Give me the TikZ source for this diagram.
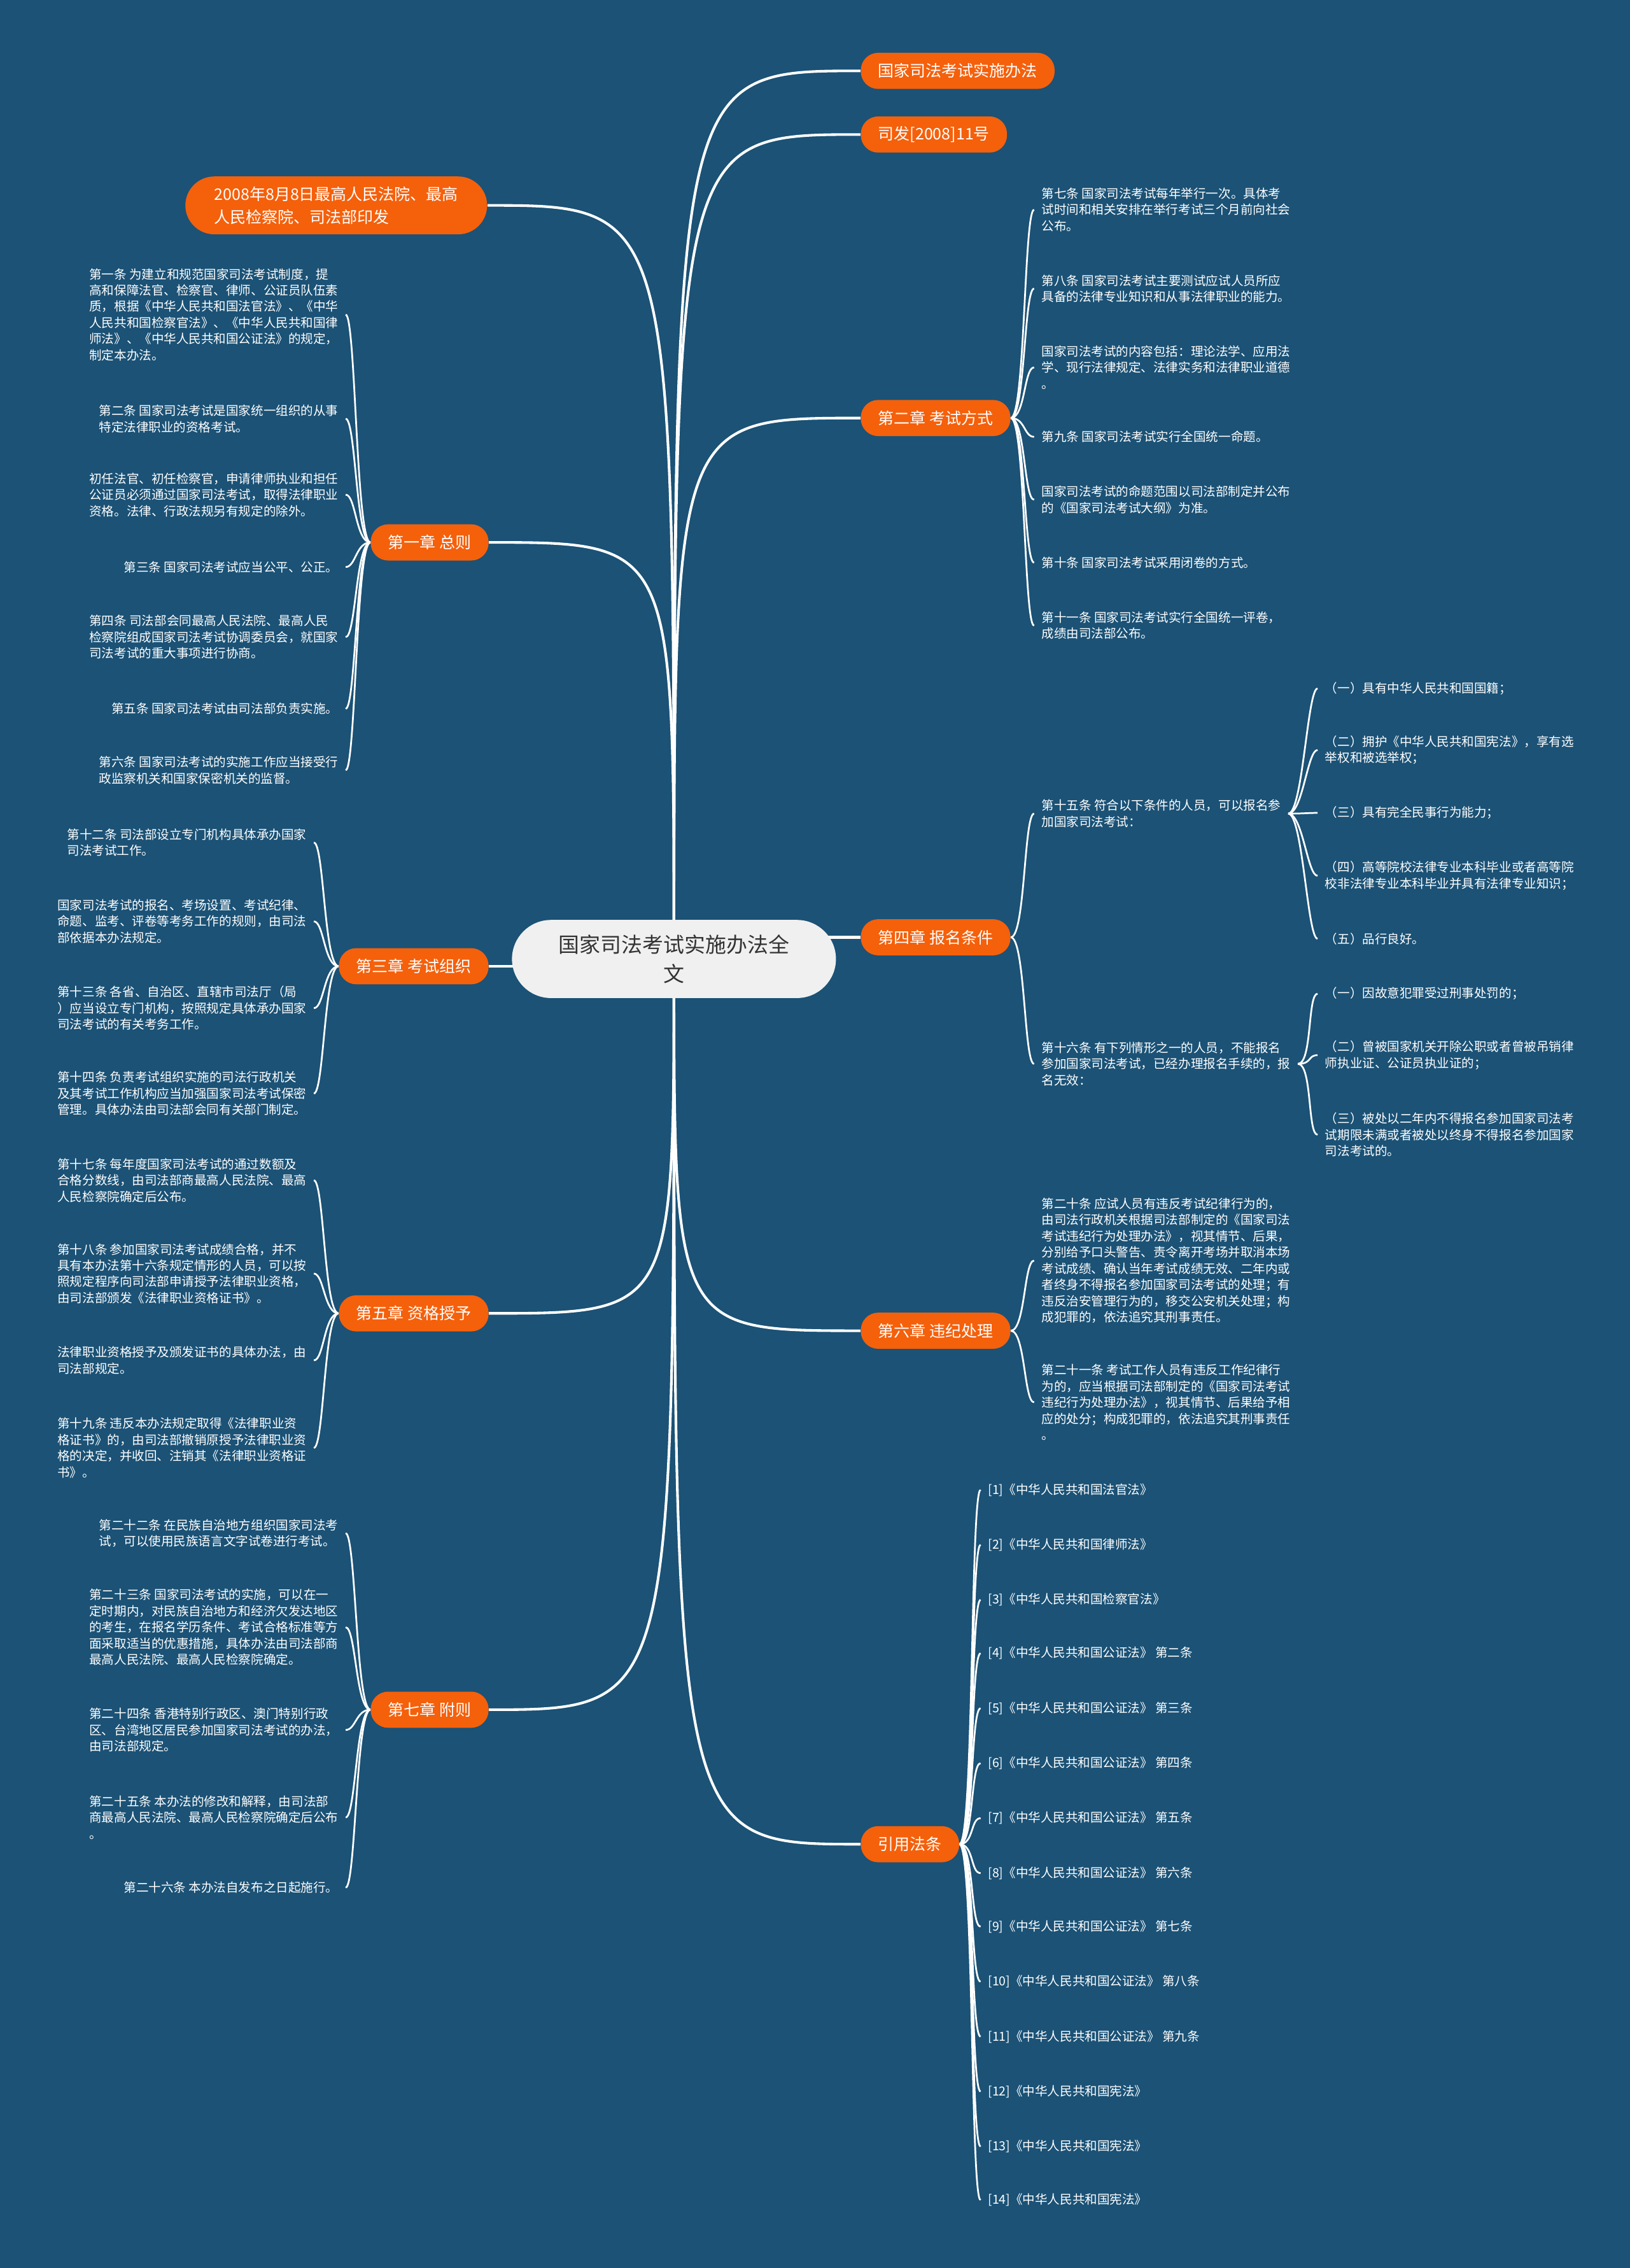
\documentclass[tikz,border=0pt]{standalone}
\usepackage{fontspec}
\newfontfamily\cjk{Noto Sans CJK SC}
\usetikzlibrary{backgrounds}
\definecolor{deskblue}{HTML}{1B5276}
\definecolor{tagorange}{HTML}{F5600B}
\definecolor{hubgray}{HTML}{F0F0F0}
\definecolor{hubtext}{HTML}{333333}

\begin{document}
\begin{tikzpicture}[x=1pt, y=-1pt]
    \tikzset{hub/.style = {shape=rectangle, rounded corners=27pt, fill=hubgray, text=hubtext, font=\cjk\fontsize{14.5}{20}\selectfont, align=center, minimum width=224pt, minimum height=54pt, inner sep=0pt}}
    \tikzset{tag/.style = {shape=rectangle, rounded corners=12pt, fill=tagorange, text=white, font=\cjk\fontsize{11}{16}\selectfont, align=left, minimum height=25pt, inner xsep=12pt, inner ysep=0pt}}
    \tikzset{leaf/.style = {text=white, font=\cjk\fontsize{8.6}{11.2}\selectfont, align=left, inner xsep=5pt, inner ysep=2pt}}
    \tikzset{limb/.style = {draw=white, line width=1.8pt}}
    \tikzset{ltwig/.style = {draw=white, line width=1.2pt, to path={.. controls ([xshift=-10pt]\tikztostart) and ([xshift=7pt]\tikztotarget) .. (\tikztotarget) \tikztonodes}}}
    \tikzset{rtwig/.style = {draw=white, line width=1.2pt, to path={.. controls ([xshift=10pt]\tikztostart) and ([xshift=-7pt]\tikztotarget) .. (\tikztotarget) \tikztonodes}}}

    \useasboundingbox (0,0) rectangle (1127,1568);

    % centre and chapters
    \node[hub] (hub) at (466,663) {国家司法考试实施办法全\\文};
    \node[tag, anchor=west] (r1) at (595,49) {国家司法考试实施办法};
    \node[tag, anchor=west] (r2) at (595,93) {司发[2008]11号};
    \node[tag, anchor=west] (r3) at (595,289) {第二章 考试方式};
    \node[tag, anchor=west] (r4) at (595,648) {第四章 报名条件};
    \node[tag, anchor=west] (r5) at (595,920) {第六章 违纪处理};
    \node[tag, anchor=west] (r6) at (595,1275) {引用法条};
    \node[tag, anchor=east, rounded corners=20pt, minimum height=40pt, inner xsep=20pt] (l0) at (337,142) {2008年8月8日最高人民法院、最高\\人民检察院、司法部印发};
    \node[tag, anchor=east] (l1) at (338,375) {第一章 总则};
    \node[tag, anchor=east] (l2) at (338,668) {第三章 考试组织};
    \node[tag, anchor=east] (l3) at (338,908) {第五章 资格授予};
    \node[tag, anchor=east] (l4) at (338,1182) {第七章 附则};

    % chapter one
    \node[leaf, anchor=east] (a1) at (239,217.5) {第一条 为建立和规范国家司法考试制度，提\\高和保障法官、检察官、律师、公证员队伍素\\质，根据《中华人民共和国法官法》、《中华\\人民共和国检察官法》、《中华人民共和国律\\师法》、《中华人民共和国公证法》的规定，\\制定本办法。};
    \node[leaf, anchor=east] (a2) at (239,289.5) {第二条 国家司法考试是国家统一组织的从事\\特定法律职业的资格考试。};
    \node[leaf, anchor=east] (a3) at (239,342) {初任法官、初任检察官，申请律师执业和担任\\公证员必须通过国家司法考试，取得法律职业\\资格。法律、行政法规另有规定的除外。};
    \node[leaf, anchor=east] (a4) at (239,392) {第三条 国家司法考试应当公平、公正。};
    \node[leaf, anchor=east] (a5) at (239,440.5) {第四条 司法部会同最高人民法院、最高人民\\检察院组成国家司法考试协调委员会，就国家\\司法考试的重大事项进行协商。};
    \node[leaf, anchor=east] (a6) at (239,490) {第五条 国家司法考试由司法部负责实施。};
    \node[leaf, anchor=east] (a7) at (239,532.5) {第六条 国家司法考试的实施工作应当接受行\\政监察机关和国家保密机关的监督。};

    % chapter two
    \node[leaf, anchor=west] (b1) at (715,145) {第七条 国家司法考试每年举行一次。具体考\\试时间和相关安排在举行考试三个月前向社会\\公布。};
    \node[leaf, anchor=west] (b2) at (715,199.5) {第八条 国家司法考试主要测试应试人员所应\\具备的法律专业知识和从事法律职业的能力。};
    \node[leaf, anchor=west] (b3) at (715,254) {国家司法考试的内容包括：理论法学、应用法\\学、现行法律规定、法律实务和法律职业道德\\。};
    \node[leaf, anchor=west] (b4) at (715,302) {第九条 国家司法考试实行全国统一命题。};
    \node[leaf, anchor=west] (b5) at (715,345.5) {国家司法考试的命题范围以司法部制定并公布\\的《国家司法考试大纲》为准。};
    \node[leaf, anchor=west] (b6) at (715,389) {第十条 国家司法考试采用闭卷的方式。};
    \node[leaf, anchor=west] (b7) at (715,432.5) {第十一条 国家司法考试实行全国统一评卷，\\成绩由司法部公布。};

    % chapter three
    \node[leaf, anchor=east] (c1) at (217,582.5) {第十二条 司法部设立专门机构具体承办国家\\司法考试工作。};
    \node[leaf, anchor=east] (c2) at (217,637) {国家司法考试的报名、考场设置、考试纪律、\\命题、监考、评卷等考务工作的规则，由司法\\部依据本办法规定。};
    \node[leaf, anchor=east] (c3) at (217,697) {第十三条 各省、自治区、直辖市司法厅（局\\）应当设立专门机构，按照规定具体承办国家\\司法考试的有关考务工作。};
    \node[leaf, anchor=east] (c4) at (217,756) {第十四条 负责考试组织实施的司法行政机关\\及其考试工作机构应当加强国家司法考试保密\\管理。具体办法由司法部会同有关部门制定。};

    % chapter four
    \node[leaf, anchor=west] (d1) at (715,562.5) {第十五条 符合以下条件的人员，可以报名参\\加国家司法考试：};
    \node[leaf, anchor=west] (d2) at (715,735.5) {第十六条 有下列情形之一的人员，不能报名\\参加国家司法考试，已经办理报名手续的，报\\名无效：};
    \node[leaf, anchor=west] (e1) at (911,476) {（一）具有中华人民共和国国籍；};
    \node[leaf, anchor=west] (e2) at (911,518.5) {（二）拥护《中华人民共和国宪法》，享有选\\举权和被选举权；};
    \node[leaf, anchor=west] (e3) at (911,562) {（三）具有完全民事行为能力；};
    \node[leaf, anchor=west] (e4) at (911,605.5) {（四）高等院校法律专业本科毕业或者高等院\\校非法律专业本科毕业并具有法律专业知识；};
    \node[leaf, anchor=west] (e5) at (911,649) {（五）品行良好。};
    \node[leaf, anchor=west] (f1) at (911,687) {（一）因故意犯罪受过刑事处罚的；};
    \node[leaf, anchor=west] (f2) at (911,729.5) {（二）曾被国家机关开除公职或者曾被吊销律\\师执业证、公证员执业证的；};
    \node[leaf, anchor=west] (f3) at (911,784.5) {（三）被处以二年内不得报名参加国家司法考\\试期限未满或者被处以终身不得报名参加国家\\司法考试的。};

    % chapter five
    \node[leaf, anchor=east] (g1) at (217,816) {第十七条 每年度国家司法考试的通过数额及\\合格分数线，由司法部商最高人民法院、最高\\人民检察院确定后公布。};
    \node[leaf, anchor=east] (g2) at (217,880.5) {第十八条 参加国家司法考试成绩合格，并不\\具有本办法第十六条规定情形的人员，可以按\\照规定程序向司法部申请授予法律职业资格，\\由司法部颁发《法律职业资格证书》。};
    \node[leaf, anchor=east] (g3) at (217,940.5) {法律职业资格授予及颁发证书的具体办法，由\\司法部规定。};
    \node[leaf, anchor=east] (g4) at (217,1001) {第十九条 违反本办法规定取得《法律职业资\\格证书》的，由司法部撤销原授予法律职业资\\格的决定，并收回、注销其《法律职业资格证\\书》。};

    % chapter six
    \node[leaf, anchor=west] (h1) at (715,871.5) {第二十条 应试人员有违反考试纪律行为的，\\由司法行政机关根据司法部制定的《国家司法\\考试违纪行为处理办法》，视其情节、后果，\\分别给予口头警告、责令离开考场并取消本场\\考试成绩、确认当年考试成绩无效、二年内或\\者终身不得报名参加国家司法考试的处理；有\\违反治安管理行为的，移交公安机关处理；构\\成犯罪的，依法追究其刑事责任。};
    \node[leaf, anchor=west] (h2) at (715,969.5) {第二十一条 考试工作人员有违反工作纪律行\\为的，应当根据司法部制定的《国家司法考试\\违纪行为处理办法》，视其情节、后果给予相\\应的处分；构成犯罪的，依法追究其刑事责任\\。};

    % chapter seven
    \node[leaf, anchor=east] (k1) at (239,1060) {第二十二条 在民族自治地方组织国家司法考\\试，可以使用民族语言文字试卷进行考试。};
    \node[leaf, anchor=east] (k2) at (239,1125) {第二十三条 国家司法考试的实施，可以在一\\定时期内，对民族自治地方和经济欠发达地区\\的考生，在报名学历条件、考试合格标准等方\\面采取适当的优惠措施，具体办法由司法部商\\最高人民法院、最高人民检察院确定。};
    \node[leaf, anchor=east] (k3) at (239,1196) {第二十四条 香港特别行政区、澳门特别行政\\区、台湾地区居民参加国家司法考试的办法，\\由司法部规定。};
    \node[leaf, anchor=east] (k4) at (239,1256.5) {第二十五条 本办法的修改和解释，由司法部\\商最高人民法院、最高人民检察院确定后公布\\。};
    \node[leaf, anchor=east] (k5) at (239,1305) {第二十六条 本办法自发布之日起施行。};

    % cited laws
    \node[leaf, anchor=west] (q1) at (678,1030) {[1]《中华人民共和国法官法》};
    \node[leaf, anchor=west] (q2) at (678,1068) {[2]《中华人民共和国律师法》};
    \node[leaf, anchor=west] (q3) at (678,1106) {[3]《中华人民共和国检察官法》};
    \node[leaf, anchor=west] (q4) at (678,1143) {[4]《中华人民共和国公证法》 第二条};
    \node[leaf, anchor=west] (q5) at (678,1181) {[5]《中华人民共和国公证法》 第三条};
    \node[leaf, anchor=west] (q6) at (678,1219) {[6]《中华人民共和国公证法》 第四条};
    \node[leaf, anchor=west] (q7) at (678,1257) {[7]《中华人民共和国公证法》 第五条};
    \node[leaf, anchor=west] (q8) at (678,1295) {[8]《中华人民共和国公证法》 第六条};
    \node[leaf, anchor=west] (q9) at (678,1332) {[9]《中华人民共和国公证法》 第七条};
    \node[leaf, anchor=west] (q10) at (678,1370) {[10]《中华人民共和国公证法》 第八条};
    \node[leaf, anchor=west] (q11) at (678,1408) {[11]《中华人民共和国公证法》 第九条};
    \node[leaf, anchor=west] (q12) at (678,1446) {[12]《中华人民共和国宪法》};
    \node[leaf, anchor=west] (q13) at (678,1484) {[13]《中华人民共和国宪法》};
    \node[leaf, anchor=west] (q14) at (678,1521) {[14]《中华人民共和国宪法》};

    \begin{scope}[on background layer]
    \fill[deskblue] (0,0) rectangle (1127,1568);

    % edges from the centre
    \draw[limb] (hub.center) .. controls (hub.center |- r1.west) .. (r1.west);
    \draw[limb] (hub.center) .. controls (hub.center |- r2.west) .. (r2.west);
    \draw[limb] (hub.center) .. controls (hub.center |- r3.west) .. (r3.west);
    \draw[limb] (hub.center |- r4.west) -- (r4.west);
    \draw[limb] (hub.center) .. controls (hub.center |- r5.west) .. (r5.west);
    \draw[limb] (hub.center) .. controls (hub.center |- r6.west) .. (r6.west);
    \draw[limb] (hub.center) .. controls (hub.center |- l0.east) .. (l0.east);
    \draw[limb] (hub.center) .. controls (hub.center |- l1.east) .. (l1.east);
    \draw[limb] (hub.center |- l2.east) -- (l2.east);
    \draw[limb] (hub.center) .. controls (hub.center |- l3.east) .. (l3.east);
    \draw[limb] (hub.center) .. controls (hub.center |- l4.east) .. (l4.east);

    % edges to the articles
    \draw[ltwig] (l1.west) to (a1.east);
    \draw[ltwig] (l1.west) to (a2.east);
    \draw[ltwig] (l1.west) to (a3.east);
    \draw[ltwig] (l1.west) to (a4.east);
    \draw[ltwig] (l1.west) to (a5.east);
    \draw[ltwig] (l1.west) to (a6.east);
    \draw[ltwig] (l1.west) to (a7.east);
    \draw[rtwig] (r3.east) to (b1.west);
    \draw[rtwig] (r3.east) to (b2.west);
    \draw[rtwig] (r3.east) to (b3.west);
    \draw[rtwig] (r3.east) to (b4.west);
    \draw[rtwig] (r3.east) to (b5.west);
    \draw[rtwig] (r3.east) to (b6.west);
    \draw[rtwig] (r3.east) to (b7.west);
    \draw[ltwig] (l2.west) to (c1.east);
    \draw[ltwig] (l2.west) to (c2.east);
    \draw[ltwig] (l2.west) to (c3.east);
    \draw[ltwig] (l2.west) to (c4.east);
    \draw[rtwig] (r4.east) to (d1.west);
    \draw[rtwig] (r4.east) to (d2.west);
    \draw[rtwig] (d1.east) to (e1.west);
    \draw[rtwig] (d1.east) to (e2.west);
    \draw[rtwig] (d1.east) to (e3.west);
    \draw[rtwig] (d1.east) to (e4.west);
    \draw[rtwig] (d1.east) to (e5.west);
    \draw[rtwig] (d2.east) to (f1.west);
    \draw[rtwig] (d2.east) to (f2.west);
    \draw[rtwig] (d2.east) to (f3.west);
    \draw[ltwig] (l3.west) to (g1.east);
    \draw[ltwig] (l3.west) to (g2.east);
    \draw[ltwig] (l3.west) to (g3.east);
    \draw[ltwig] (l3.west) to (g4.east);
    \draw[rtwig] (r5.east) to (h1.west);
    \draw[rtwig] (r5.east) to (h2.west);
    \draw[ltwig] (l4.west) to (k1.east);
    \draw[ltwig] (l4.west) to (k2.east);
    \draw[ltwig] (l4.west) to (k3.east);
    \draw[ltwig] (l4.west) to (k4.east);
    \draw[ltwig] (l4.west) to (k5.east);
    \draw[rtwig] (r6.east) to (q1.west);
    \draw[rtwig] (r6.east) to (q2.west);
    \draw[rtwig] (r6.east) to (q3.west);
    \draw[rtwig] (r6.east) to (q4.west);
    \draw[rtwig] (r6.east) to (q5.west);
    \draw[rtwig] (r6.east) to (q6.west);
    \draw[rtwig] (r6.east) to (q7.west);
    \draw[rtwig] (r6.east) to (q8.west);
    \draw[rtwig] (r6.east) to (q9.west);
    \draw[rtwig] (r6.east) to (q10.west);
    \draw[rtwig] (r6.east) to (q11.west);
    \draw[rtwig] (r6.east) to (q12.west);
    \draw[rtwig] (r6.east) to (q13.west);
    \draw[rtwig] (r6.east) to (q14.west);
    \end{scope}
\end{tikzpicture}
\end{document}
